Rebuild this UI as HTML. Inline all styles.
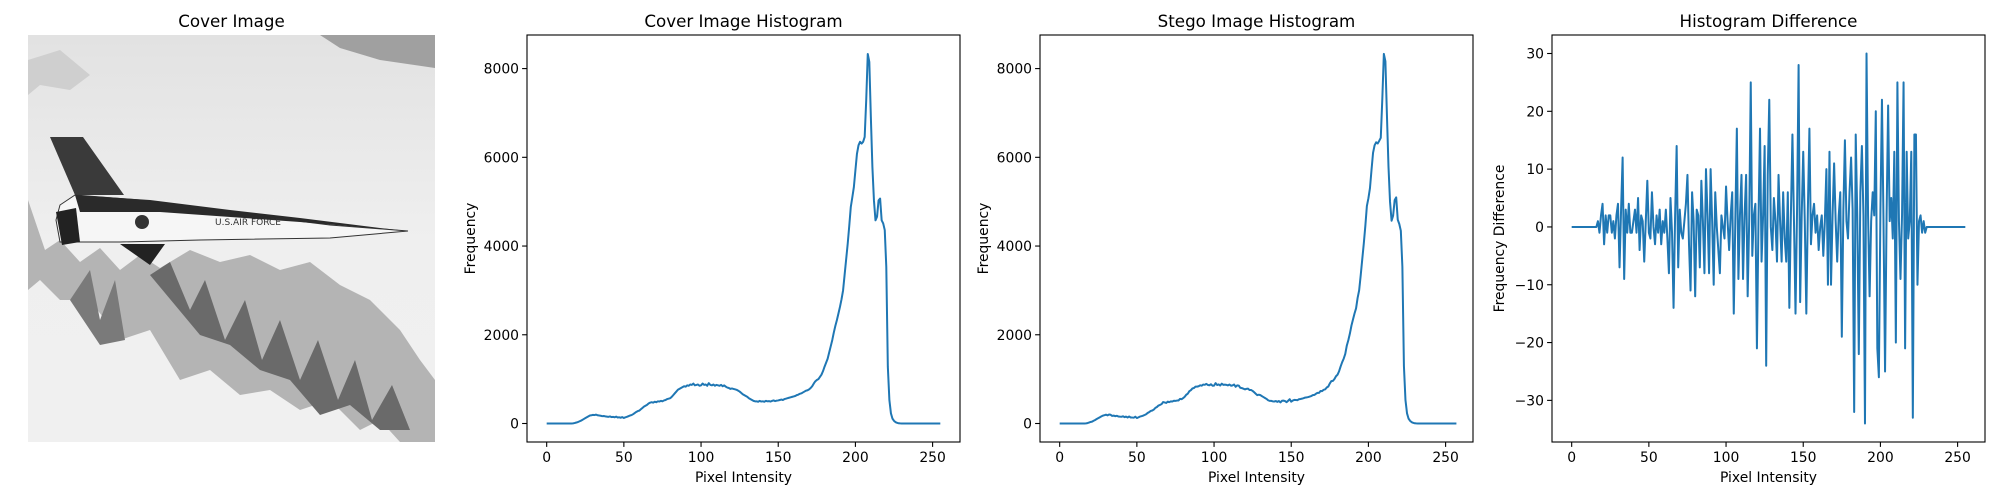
<!DOCTYPE html>
<html><head><meta charset="utf-8"><style>
html,body{margin:0;padding:0;background:#fff;}
svg{display:block;font-family:"DejaVu Sans","Liberation Sans",sans-serif;}
</style></head><body>
<svg id="fig" width="2000" height="500" viewBox="0 0 2000 500" xmlns="http://www.w3.org/2000/svg">
<text x="231.5" y="27" font-size="16.7" text-anchor="middle">Cover Image</text>
<g>
  <defs><linearGradient id="sky" x1="0" y1="0" x2="0" y2="1"><stop offset="0" stop-color="#e2e2e2"/><stop offset="0.5" stop-color="#efefef"/><stop offset="1" stop-color="#f0f0f0"/></linearGradient></defs>
  <rect x="28" y="35" width="407" height="407" fill="url(#sky)"/>
  <polygon points="320,35 435,35 435,68 380,60 340,48" fill="#a0a0a0"/>
  <polygon points="28,60 60,50 90,75 70,90 40,85 28,95" fill="#cfcfcf"/>
  <polygon points="28,200 45,250 60,240 80,262 100,248 120,270 140,255 160,268 190,250 220,262 250,255 280,270 310,262 340,285 370,300 400,330 420,360 435,380 435,442 400,442 380,420 360,430 330,400 300,410 270,390 240,395 210,370 180,380 150,330 120,340 90,300 60,300 40,280 28,290" fill="#b4b4b4"/>
  <polygon points="150,275 170,262 190,310 205,280 225,340 245,300 262,360 280,320 300,380 318,340 338,400 355,360 372,420 392,385 410,430 380,430 350,405 320,415 290,380 260,370 230,345 200,335" fill="#6a6a6a"/>
  <polygon points="70,300 90,270 100,320 115,280 125,340 100,345" fill="#7a7a7a"/>
  <polygon points="50,137 83,137 124,195 75,195" fill="#3a3a3a"/>
  <polygon points="75,195 140,200 250,215 330,225 408,231 330,238 200,240 120,242 60,242 56,220 60,205" fill="#f6f6f6" stroke="#333" stroke-width="1"/>
  <polygon points="75,195 150,200 230,210 300,218 380,228 408,231 300,222 160,212 80,212" fill="#2a2a2a"/>
  <polygon points="56,212 76,208 80,242 62,245" fill="#222"/>
  <polygon points="120,244 165,244 150,265" fill="#222"/>
  <circle cx="142" cy="222" r="7" fill="#333"/>
  <text x="215" y="225" font-size="9" fill="#333">U.S.AIR FORCE</text>
</g>
<g id="plots"></g>
</svg>
<script>
const xTicks=[0,50,100,150,200,250];
const histTicks=[0,2000,4000,6000,8000];
const diffTicks=[-30,-20,-10,0,10,20,30];
const coverFreq=[0,0,0,0,0,0,0,0,0,0,0,0,0,0,0,0,0,
2,10,20,30,45,60,80,100,120,140,160,180,185,195,190,200,185,180,175,165,170,160,155,150,160,145,150,140,155,135,140,130,145,125,140,150,165,180,190,210,235,260,280,290,320,350,380,400,420,450,470,480,470,490,480,500,495,510,500,520,530,550,560,570,600,640,680,720,760,780,800,820,840,830,860,850,880,870,900,860,870,880,850,860,900,870,880,850,910,870,860,880,850,870,860,850,870,840,860,830,810,800,780,790,780,770,760,740,720,690,660,640,620,600,570,550,530,510,500,500,490,510,495,500,490,510,500,505,495,510,520,505,515,520,530,540,530,550,560,570,580,590,600,610,620,640,650,670,680,700,720,740,750,770,800,840,900,950,980,1000,1050,1100,1180,1280,1370,1460,1600,1740,1880,2050,2200,2330,2480,2630,2800,3000,3350,3700,4050,4450,4880,5100,5330,5710,6080,6270,6350,6310,6350,6460,7290,8330,8150,6910,5780,5030,4580,4660,5030,5070,4580,4510,4360,3530,1280,530,230,110,60,30,15,5,2,
0,0,0,0,0,0,0,0,0,0,0,0,0,0,0,0,0,0,0,0,0,0,0,0,0,0];
const stegoFreq=[0,0,0,0,0,0,0,0,0,0,0,0,0,0,0,0,0,
3,9,22,34,42,62,79,102,122,139,161,178,187,199,183,203,197,171,178,164,174,159,154,151,163,144,155,136,157,136,134,131,153,123,138,156,165,177,192,209,238,257,283,293,314,352,372,405,419,436,484,474,463,493,481,498,496,514,509,517,519,556,548,573,603,648,673,728,752,790,800,830,832,840,861,852,878,872,893,868,863,884,852,853,910,867,882,856,897,871,877,871,859,879,851,859,879,828,860,855,805,798,784,769,781,787,754,754,734,704,671,640,649,640,616,596,575,554,524,510,510,500,496,506,489,506,476,512,516,506,480,513,548,492,517,533,531,525,547,553,560,570,584,589,596,608,619,640,645,670,690,690,733,730,760,770,811,834,902,956,961,1003,1065,1101,1178,1286,1382,1463,1568,1756,1880,2028,2206,2344,2480,2596,2830,3002,3338,3700,4056,4452,4900,5079,5304,5713,6102,6271,6338,6312,6371,6439,7315,8331,8163,6943,5796,4996,4571,4684,5034,5096,4593,4497,4343,3531,1296,530,230,110,60,30,15,5,2,
0,0,0,0,0,0,0,0,0,0,0,0,0,0,0,0,0,0,0,0,0,0,0,0,0,0];
const diffVals=[0,0,0,0,0,0,0,0,0,0,0,0,0,0,0,0,0,
1,-1,2,4,-3,2,-1,2,2,-1,1,-2,2,4,-7,3,12,-9,3,-1,4,-1,-1,1,3,-1,5,-4,2,1,-6,1,8,-1,-2,6,0,-3,2,-1,3,-3,1,-1,3,-2,-8,5,-1,-14,2,14,-7,3,-1,-2,1,4,9,-3,-11,6,1,-12,3,2,-7,8,1,-8,10,2,-8,10,1,-10,6,0,-4,-8,2,0,-2,7,1,-4,2,6,-15,1,17,-9,2,9,-9,2,9,-12,1,25,-5,2,4,-21,1,17,-6,2,14,-24,9,22,0,-4,5,1,-6,9,1,-6,6,-2,-6,6,-14,2,16,1,-15,3,28,-13,2,13,1,-15,3,17,-3,2,4,-1,2,-4,0,2,-5,1,10,-10,13,-10,2,11,1,-6,2,6,-19,3,15,1,-2,6,12,3,-32,16,2,-22,6,14,2,-34,30,2,-12,1,6,2,20,-21,-26,3,22,1,-25,2,21,1,5,-2,13,-20,25,1,-9,2,25,-21,13,-2,1,13,-33,16,16,-10,1,2,-1,1,-1,0,
0,0,0,0,0,0,0,0,0,0,0,0,0,0,0,0,0,0,0,0,0,0,0,0,0];

const NS='http://www.w3.org/2000/svg';
const root=document.getElementById('plots');
function mk(tag,attrs,parent){const e=document.createElementNS(NS,tag);for(const k in attrs)e.setAttribute(k,attrs[k]);(parent||root).appendChild(e);return e;}

function panel(key,x0,title,ylabel,yTicks,vals,ymin,ymax,ylabX){
  const y0=35,w=433,h=407;
  const g=mk('g',{});
  
  
  const xmin=-12.75,xmax=267.75;
  const sx=v=>x0+(v-xmin)/(xmax-xmin)*w;
  const sy=v=>y0+h-(v-ymin)/(ymax-ymin)*h;
  const t=mk('text',{x:x0+w/2,y:27,'font-size':16.7,'text-anchor':'middle'},g);t.textContent=title;
  
  
  let d='';
  vals.forEach((v,i)=>{d+=(i?'L':'M')+sx(i).toFixed(2)+','+sy(v).toFixed(2);});
  const p=mk('path',{d:d,fill:'none',stroke:'#1f77b4','stroke-width':2,'stroke-linejoin':'round'},g);
  
  
  const fr=mk('rect',{x:x0,y:y0,width:w,height:h,fill:'none',stroke:'#000','stroke-width':1.1},g);
  
  
  xTicks.forEach(v=>{
    const X=sx(v);
    mk('line',{x1:X,x2:X,y1:y0+h,y2:y0+h+4.9,stroke:'#000','stroke-width':1.1},g);
    const tx=mk('text',{x:X,y:462,'font-size':13.9,'text-anchor':'middle'},g);tx.textContent=v;
    
    
  });
  yTicks.forEach(v=>{
    const Y=sy(v);
    mk('line',{x1:x0-4.9,x2:x0,y1:Y,y2:Y,stroke:'#000','stroke-width':1.1},g);
    const ty=mk('text',{x:x0-8,y:Y+5,'font-size':13.9,'text-anchor':'end'},g);ty.textContent=String(v).replace('-','\u2212');
    
    
  });
  const xl=mk('text',{x:x0+w/2,y:482,'font-size':13.9,'text-anchor':'middle'},g);xl.textContent='Pixel Intensity';
  
  
  const yl=mk('text',{x:ylabX,y:y0+h/2,'font-size':13.9,'text-anchor':'middle',transform:'rotate(-90 '+ylabX+' '+(y0+h/2)+')'},g);yl.textContent=ylabel;
  
  
}
panel('cover-histogram',527,'Cover Image Histogram','Frequency',histTicks,coverFreq,-417,8757,475);
panel('stego-histogram',1040,'Stego Image Histogram','Frequency',histTicks,stegoFreq,-417,8757,988);
panel('histogram-difference',1552,'Histogram Difference','Frequency Difference',diffTicks,diffVals,-37.2,33.2,1504);
</script>
</body></html>
